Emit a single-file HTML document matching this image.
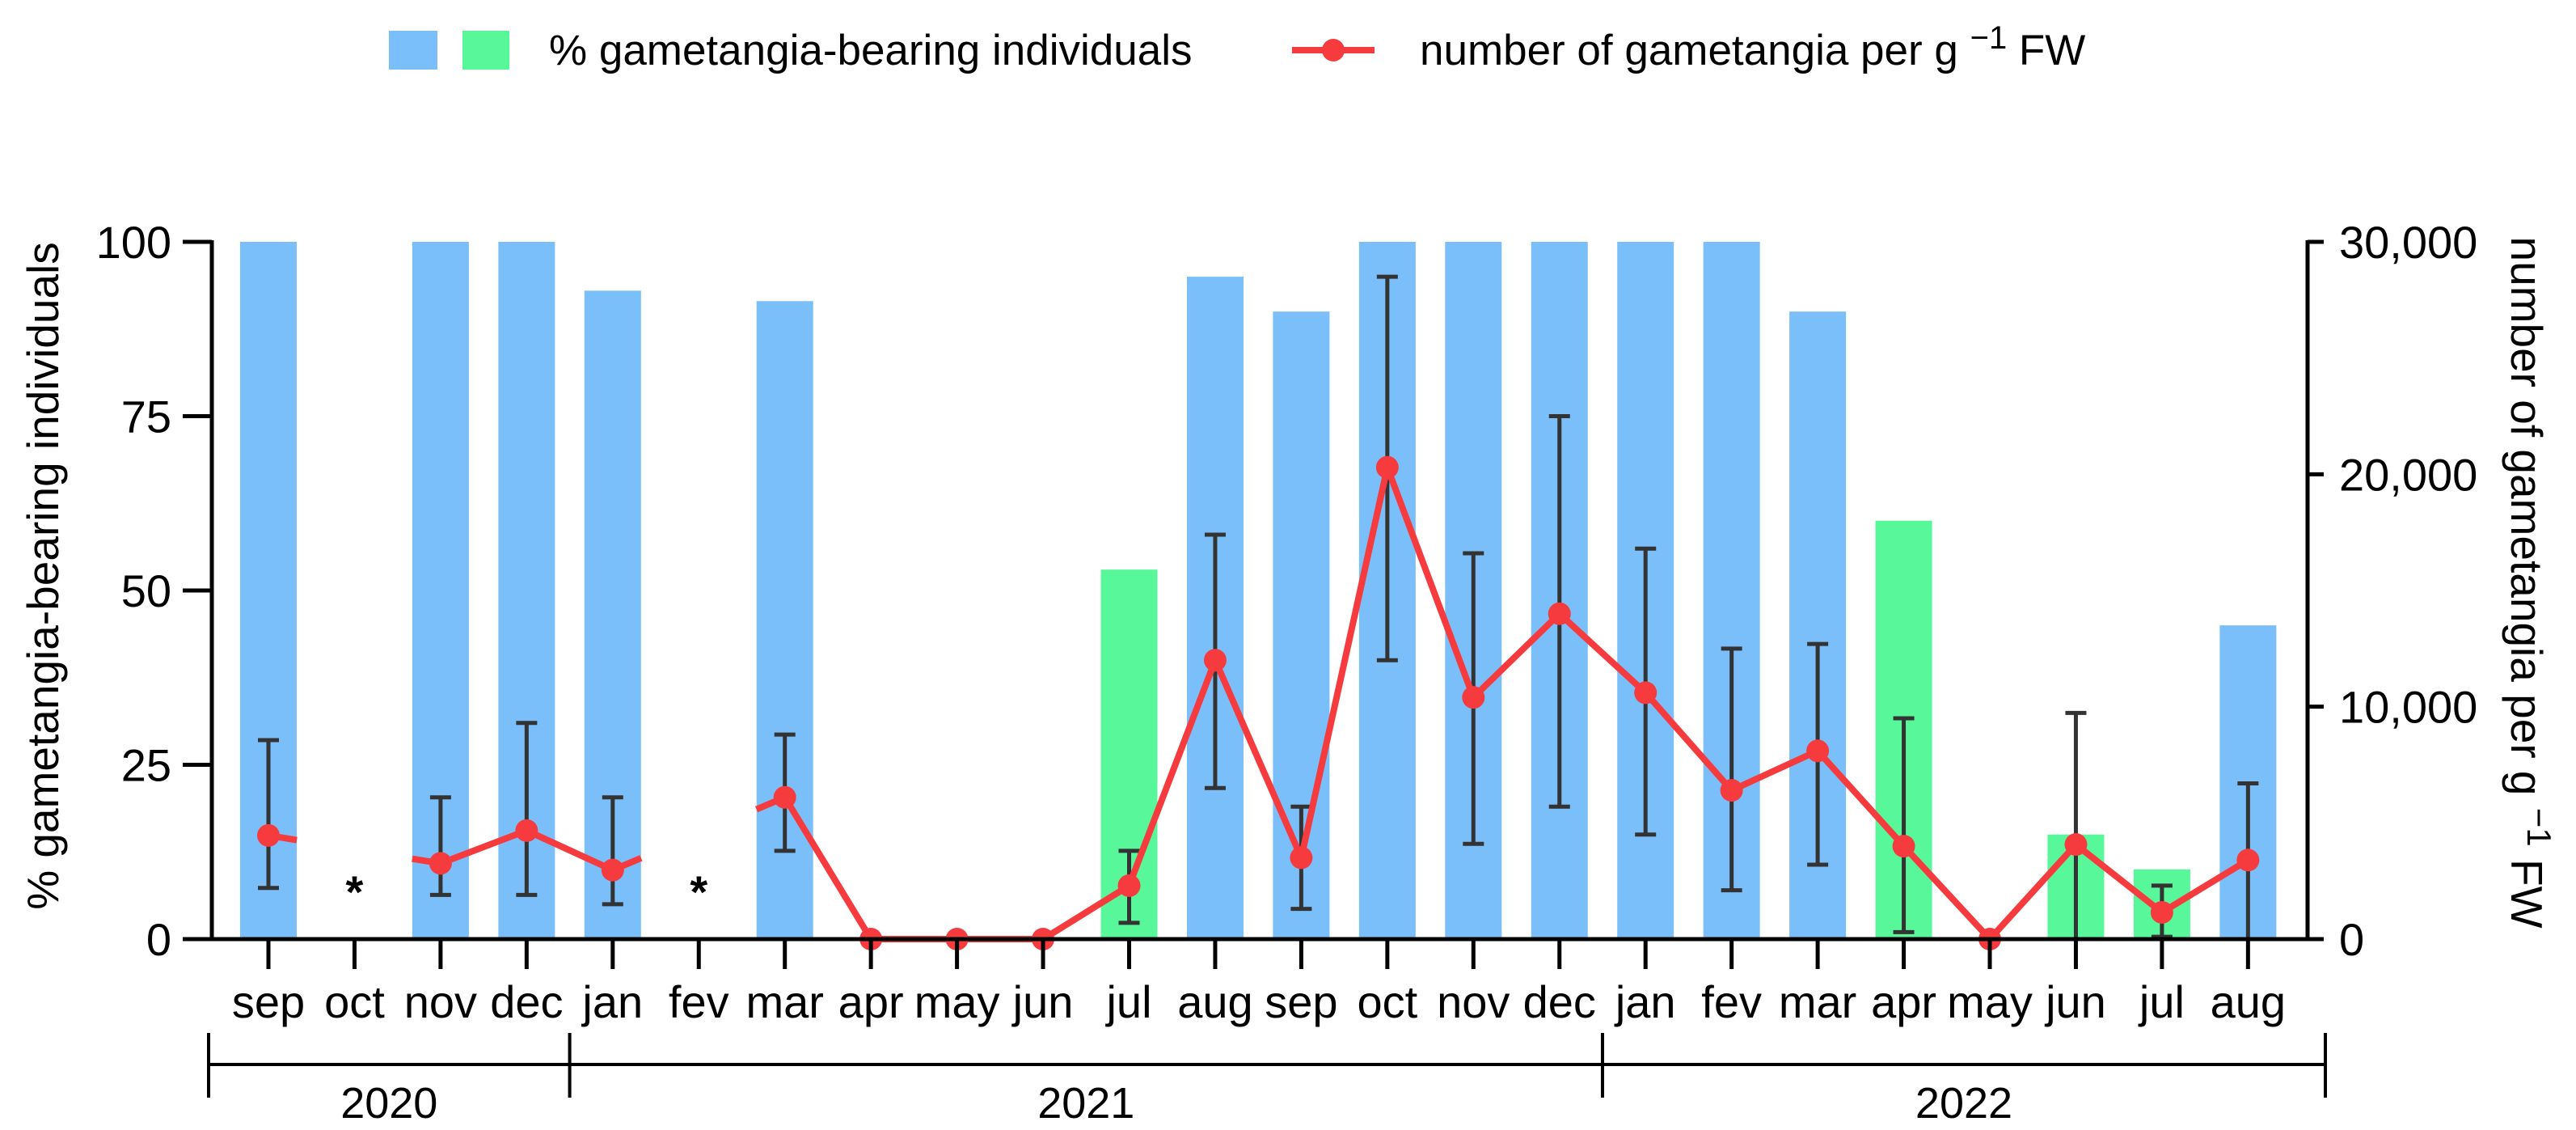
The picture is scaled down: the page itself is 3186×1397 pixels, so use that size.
<!DOCTYPE html>
<html><head><meta charset="utf-8"><style>
html,body{margin:0;padding:0;background:#fff;}
svg{display:block;font-family:"Liberation Sans",Arial,sans-serif;}
</style></head><body>
<svg id="chart" width="3186" height="1397" viewBox="0 0 3186 1397" xmlns="http://www.w3.org/2000/svg">
<g>
  <rect x="481" y="38" width="60" height="48" fill="#7BBFFA"/>
  <rect x="572" y="38" width="58" height="48" fill="#58F89A"/>
  <text x="679" y="80" font-size="53">% gametangia-bearing individuals</text>
  <line x1="1598" y1="62" x2="1700" y2="62" stroke="#F53B3E" stroke-width="8"/>
  <circle cx="1649" cy="62" r="14" fill="#F53B3E"/>
  <text x="1756" y="80" font-size="53">number of gametangia per g <tspan dy="-20" font-size="40">−1</tspan><tspan dy="20"> FW</tspan></text>
</g>
<g id="plot"></g>
</svg>
<script>
const months = ["sep","oct","nov","dec","jan","fev","mar","apr","may","jun","jul","aug","sep","oct","nov","dec","jan","fev","mar","apr","may","jun","jul","aug"];
const pctValues = [100,null,100,100,93,null,91.5,0,0,0,53,95,90,100,100,100,100,100,90,60,0,15,10,45];
const barColorGroup = ["b","b","b","b","b","b","b","b","b","b","g","b","b","b","b","b","b","b","b","g","b","g","g","b"];
const countValues = [4.46,null,3.26,4.67,2.97,null,6.1,0,0,0,2.3,12.0,3.5,20.3,10.4,14.0,10.6,6.4,8.1,4.0,0,4.07,1.15,3.4];
const errHigh = [8.56,null,6.1,9.3,6.1,null,8.8,null,null,null,3.8,17.4,5.7,28.5,16.6,22.5,16.8,12.5,12.7,9.5,null,9.73,2.3,6.7];
const errLow = [2.2,null,1.9,1.9,1.5,null,3.8,null,null,null,0.7,6.5,1.3,12.0,4.1,5.7,4.5,2.1,3.2,0.3,null,0,0.1,0];
const leftTicks = [0,25,50,75,100];
const rightTicks = [0,10,20,30];
const rightTickLabels = ["0","10,000","20,000","30,000"];
const years = ["2020","2021","2022"];
const yearStart = [0,4,16];
const yearEnd = [3,15,23];
const missingMarks = [1,5];

const NS="http://www.w3.org/2000/svg";
const plot=document.getElementById('plot');
const X0=332, STEP=106.45, Y0=1161, YTOP=299, AXL=262, AXR=2854;
const xPos=i=>X0+i*STEP;
const yL=v=>Y0-(v/100)*(Y0-YTOP);
const yR=v=>Y0-(v/30)*(Y0-YTOP);
function mk(tag,attrs,parent){const e=document.createElementNS(NS,tag);for(const k in attrs)e.setAttribute(k,attrs[k]);(parent||plot).appendChild(e);return e;}

pctValues.forEach((v,i)=>{
  if(v===null||v===0)return;
  const r=mk('rect',{x:xPos(i)-35,y:yL(v),width:70,height:Y0-yL(v),fill:barColorGroup[i]==="g"?"#58F89A":"#7BBFFA"});
  
  
});
countValues.forEach((v,i)=>{
  if(errHigh[i]===null)return;
  const g=mk('g',{stroke:"#333",'stroke-width':5,fill:"none"});
  
  
  const x=xPos(i);
  mk('line',{x1:x,y1:yR(errHigh[i]),x2:x,y2:yR(errLow[i])},g);
  mk('line',{x1:x-13,y1:yR(errHigh[i]),x2:x+13,y2:yR(errHigh[i])},g);
  if(errLow[i]>0.05)mk('line',{x1:x-13,y1:yR(errLow[i]),x2:x+13,y2:yR(errLow[i])},g);
});
let d="";
for(let i=0;i<countValues.length;i++){
  const v=countValues[i];
  if(v===null)continue;
  const prev=i>0?countValues[i-1]:null;
  if(i===0||prev===null){
    if(i>1&&prev===null&&countValues[i-2]!==null){
      const a=countValues[i-2];
      const t=0.33;
      d+="M"+(xPos(i)-STEP*t)+","+yR(v+(a-v)*t/2)+"L"+xPos(i)+","+yR(v);
    } else d+="M"+xPos(i)+","+yR(v);
  } else d+="L"+xPos(i)+","+yR(v);
  const nxt=countValues[i+1];
  if(i+2<countValues.length&&nxt===null&&countValues[i+2]!==null){
    const b=countValues[i+2];const t=0.33;
    d+="L"+(xPos(i)+STEP*t)+","+yR(v+(b-v)*t/2);
  }
}
const path=mk('path',{d:d,stroke:"#F53B3E",'stroke-width':8,fill:"none",'stroke-linejoin':"round"});


countValues.forEach((v,i)=>{
  if(v===null)return;
  const c=mk('circle',{cx:xPos(i),cy:yR(v),r:14,fill:"#F53B3E"});
  
  
});
missingMarks.forEach(i=>{
  const t=mk('text',{x:xPos(i),y:1122,'font-size':56,'font-weight':'bold','text-anchor':'middle'});
  t.textContent="*";
  
  
});
const ax=mk('g',{stroke:"#000",'stroke-width':5,fill:"none"});


mk('line',{x1:AXL,y1:YTOP-2,x2:AXL,y2:Y0+2},ax);
mk('line',{x1:AXR,y1:YTOP-2,x2:AXR,y2:Y0+2},ax);
mk('line',{x1:226,y1:Y0,x2:AXR+20,y2:Y0},ax);
leftTicks.forEach(v=>{
  mk('line',{x1:226,y1:yL(v),x2:AXL,y2:yL(v)},ax);
  const t=mk('text',{x:212,y:yL(v)+20,'font-size':56,'text-anchor':'end'});
  t.textContent=v;
  
  
});
rightTicks.forEach((v,k)=>{
  mk('line',{x1:AXR,y1:yR(v),x2:AXR+20,y2:yR(v)},ax);
  const t=mk('text',{x:2893,y:yR(v)+20,'font-size':56});
  t.textContent=rightTickLabels[k];
  
  
});
months.forEach((m,i)=>{
  mk('line',{x1:xPos(i),y1:Y0,x2:xPos(i),y2:1198},ax);
  const t=mk('text',{x:xPos(i),y:1258,'font-size':56,'text-anchor':'middle'});
  t.textContent=m;
  
  
});
const yb=mk('g',{stroke:"#000",'stroke-width':4});


const edges=[258];
for(let k=0;k<years.length;k++){
  const right=k<years.length-1?(xPos(yearEnd[k])+xPos(yearStart[k+1]))/2:2876;
  edges.push(right);
}
mk('line',{x1:edges[0],y1:1316,x2:edges[edges.length-1],y2:1316},yb);
edges.forEach(e=>mk('line',{x1:e,y1:1277,x2:e,y2:1357},yb));
years.forEach((y,k)=>{
  const t=mk('text',{x:(edges[k]+edges[k+1])/2,y:1382,'font-size':54,'text-anchor':'middle'});
  t.textContent=y;
  
  
});
const lt=mk('text',{x:0,y:0,'font-size':55,'text-anchor':'middle',transform:'translate(72,712) rotate(-90)'});
lt.textContent="% gametangia-bearing individuals";


const rt=mk('text',{x:0,y:0,'font-size':55,'text-anchor':'middle',transform:'translate(3106,720) rotate(90)'});
rt.innerHTML='number of gametangia per g <tspan dy="-20" font-size="42">−1</tspan><tspan dy="20"> FW</tspan>';


</script>
</body></html>
